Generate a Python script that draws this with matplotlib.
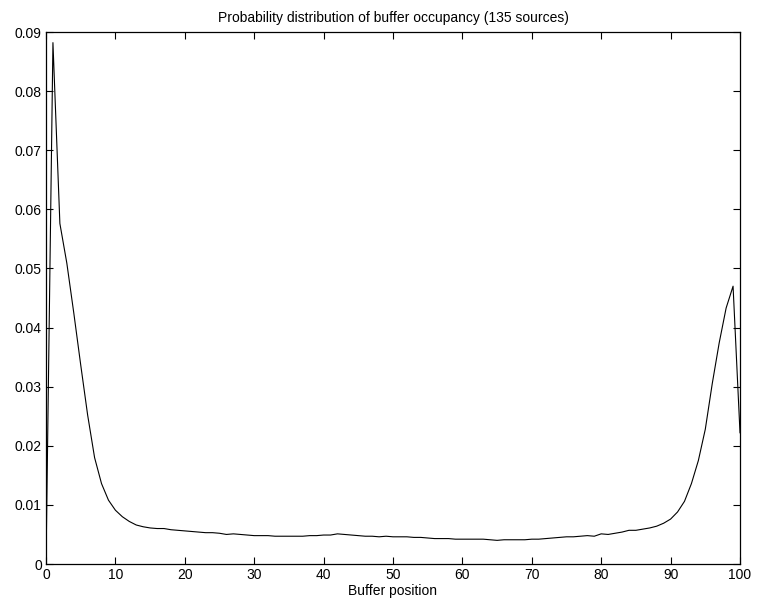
import numpy as np
from matplotlib import pyplot as plt
from matplotlib import rcParams
from matplotlib.ticker import FuncFormatter

# buffer positions 0..100 and occupancy probability
buffer_pos = list(range(101))
prob = [
    0.0, 0.0882, 0.0576, 0.0509, 0.0425, 0.0337, 0.0252, 0.0180, 0.0136, 0.0108,
    0.0091, 0.0080, 0.0072, 0.0066, 0.0063, 0.0061, 0.0060, 0.0060, 0.0058, 0.0057,
    0.0056, 0.0055, 0.0054, 0.0053, 0.0053, 0.0052, 0.0050, 0.0051, 0.0050, 0.0049,
    0.0048, 0.0048, 0.0048, 0.0047, 0.0047, 0.0047, 0.0047, 0.0047, 0.0048, 0.0048,
    0.0049, 0.0049, 0.0051, 0.0050, 0.0049, 0.0048, 0.0047, 0.0047, 0.0046, 0.0047,
    0.0046, 0.0046, 0.0046, 0.0045, 0.0045, 0.0044, 0.0043, 0.0043, 0.0043, 0.0042,
    0.0042, 0.0042, 0.0042, 0.0042, 0.0041, 0.0040, 0.0041, 0.0041, 0.0041, 0.0041,
    0.0042, 0.0042, 0.0043, 0.0044, 0.0045, 0.0046, 0.0046, 0.0047, 0.0048, 0.0047,
    0.0051, 0.0050, 0.0052, 0.0054, 0.0057, 0.0057, 0.0059, 0.0061, 0.0064, 0.0069,
    0.0076, 0.0088, 0.0106, 0.0136, 0.0175, 0.0228, 0.0305, 0.0374, 0.0433, 0.0470,
    0.0222,
]
x_ticks = list(range(0, 101, 10))
y_ticks = [0, 0.01, 0.02, 0.03, 0.04, 0.05, 0.06, 0.07, 0.08, 0.09]


def main():
    rcParams['font.family'] = ['Liberation Sans', 'DejaVu Sans']
    rcParams['font.size'] = 10

    fig = plt.figure(figsize=(7.58, 6.09), dpi=100)
    ax = fig.add_axes([46 / 758, 45 / 609, 694 / 758, 532 / 609])

    ax.plot(buffer_pos, prob, color='black', lw=0.8)

    ax.set_xlim(0, 100)
    ax.set_ylim(0, 0.09)
    ax.set_xticks(x_ticks)
    ax.set_yticks(y_ticks)
    ax.yaxis.set_major_formatter(FuncFormatter(lambda v, p: '0' if v == 0 else '%.2f' % v))
    ax.tick_params(direction='in', length=5, width=0.8, top=True, right=True,
                   labelsize=10, pad=3)
    for s in ax.spines.values():
        s.set_linewidth(0.9)

    ax.set_title('Probability distribution of buffer occupancy (135 sources)',
                 fontsize=10, pad=7)
    ax.set_xlabel('Buffer position', fontsize=10, labelpad=1)

    fig.savefig('out.png', dpi=100)


if __name__ == '__main__':
    main()
